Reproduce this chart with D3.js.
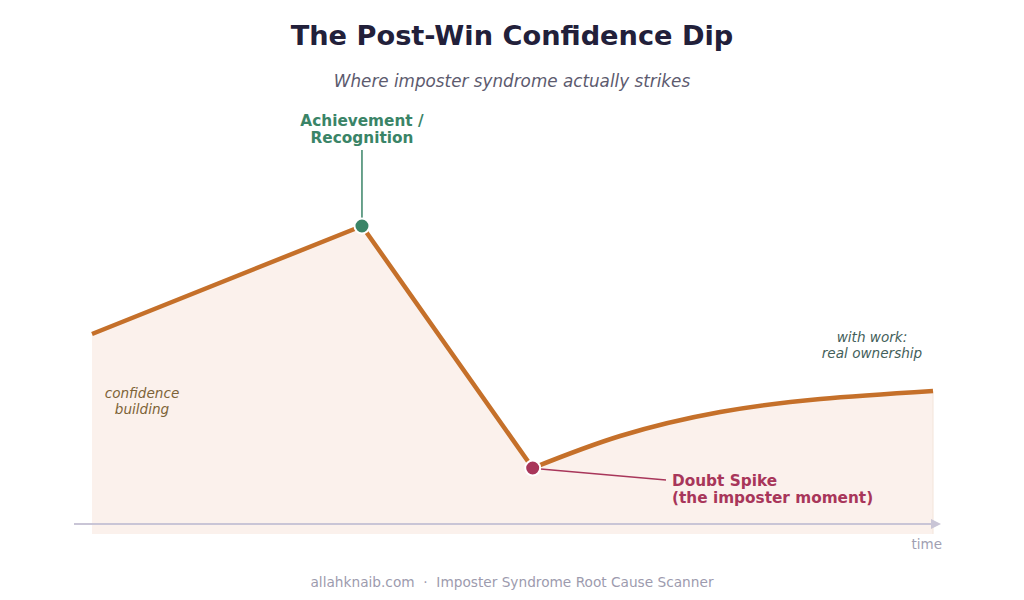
<!DOCTYPE html>
<html>
<head>
<meta charset="utf-8">
<script src="https://cdn.jsdelivr.net/npm/d3@7"></script>
<style>
  html, body { margin: 0; padding: 0; background: #fff; }
  svg { display: block; font-family: "DejaVu Sans", sans-serif; }
</style>
</head>
<body>
<div id="graph"></div>
<script>
// confidence over time (0..100 on both axes)
var riseTime = [0, 32.1, 52.4];
var riseConf = [50, 77, 16.5];
var recoveryTime = [52.4, 62.8, 74.7, 86.6, 100];
var recoveryConf = [16.5, 24.5, 30.5, 33.75, 35.75];
var axisLevel = 2.5;

var title = "The Post-Win Confidence Dip";
var subtitle = "Where imposter syndrome actually strikes";
var footer = "allahknaib.com  \u00b7  Imposter Syndrome Root Cause Scanner";

var W = 1024, H = 600;

var x = d3.scaleLinear().domain([0, 100]).range([92, 933]);
var y = d3.scaleLinear().domain([0, 100]).range([534, 134]);

var rise = riseTime.map(function(t, i) { return {t: t, v: riseConf[i]}; });
var recovery = recoveryTime.map(function(t, i) { return {t: t, v: recoveryConf[i]}; });

var svg = d3.select("#graph").append("svg")
    .attr("width", W)
    .attr("height", H);

var lineLinear = d3.line().x(function(d){ return x(d.t); }).y(function(d){ return y(d.v); });
var lineCurve = d3.line().x(function(d){ return x(d.t); }).y(function(d){ return y(d.v); })
    .curve(d3.curveNatural);

// shaded area under the curve, one path so there is no seam at the dip
var areaD = lineLinear(rise) + lineCurve(recovery).replace(/^M/, "L")
    + "L" + x(100) + "," + y(0) + "L" + x(0) + "," + y(0) + "Z";
svg.append("path").attr("d", areaD)
    .attr("fill", "#fbf1ec");
svg.append("line")
    .attr("x1", x(100)).attr("x2", x(100))
    .attr("y1", y(recoveryConf[recoveryConf.length - 1])).attr("y2", y(0))
    .attr("stroke", "#f3e4da").attr("stroke-width", 1);

// time axis with arrow
svg.append("defs").append("marker")
    .attr("id", "arrow")
    .attr("viewBox", "0 0 10 10")
    .attr("refX", 5).attr("refY", 5)
    .attr("markerWidth", 5).attr("markerHeight", 5)
    .attr("orient", "auto")
  .append("path")
    .attr("d", "M0,0 L10,5 L0,10 z")
    .attr("fill", "#c9c5d6");

svg.append("line")
    .attr("x1", 74).attr("x2", 936)
    .attr("y1", y(axisLevel)).attr("y2", y(axisLevel))
    .attr("stroke", "#c9c5d6").attr("stroke-width", 2)
    .attr("marker-end", "url(#arrow)");

svg.append("text")
    .attr("x", 942).attr("y", 549)
    .attr("text-anchor", "end")
    .attr("font-size", 13.5)
    .attr("fill", "#a19fb2")
    .text("time");

// the confidence line
svg.append("path").datum(rise).attr("d", lineLinear)
    .attr("fill", "none").attr("stroke", "#c5702a").attr("stroke-width", 4.5)
    .attr("stroke-linejoin", "round");
svg.append("path").datum(recovery).attr("d", lineCurve)
    .attr("fill", "none").attr("stroke", "#c5702a").attr("stroke-width", 4.5);

// peak annotation
var peak = rise[1], dip = rise[2];
svg.append("line")
    .attr("x1", x(peak.t)).attr("x2", x(peak.t))
    .attr("y1", 150).attr("y2", y(peak.v) - 8)
    .attr("stroke", "#3a8467").attr("stroke-width", 1.5);
svg.append("circle")
    .attr("cx", x(peak.t)).attr("cy", y(peak.v)).attr("r", 7.5)
    .attr("fill", "#3a8467").attr("stroke", "#fff").attr("stroke-width", 2);
var peakLbl = svg.append("text")
    .attr("text-anchor", "middle")
    .attr("font-size", 15.3).attr("font-weight", "bold")
    .attr("fill", "#3a8467");
peakLbl.append("tspan").attr("x", x(peak.t)).attr("y", 126).text("Achievement /");
peakLbl.append("tspan").attr("x", x(peak.t)).attr("y", 143).text("Recognition");

// dip annotation
svg.append("line")
    .attr("x1", x(dip.t) + 8).attr("y1", y(dip.v) + 1)
    .attr("x2", 666).attr("y2", 480)
    .attr("stroke", "#a8365a").attr("stroke-width", 1.3);
svg.append("circle")
    .attr("cx", x(dip.t)).attr("cy", y(dip.v)).attr("r", 7.5)
    .attr("fill", "#a8365a").attr("stroke", "#fff").attr("stroke-width", 2);
var dipLbl = svg.append("text")
    .attr("font-size", 15.3).attr("font-weight", "bold")
    .attr("fill", "#a8365a");
dipLbl.append("tspan").attr("x", 672).attr("y", 486).text("Doubt Spike");
dipLbl.append("tspan").attr("x", 672).attr("y", 503).text("(the imposter moment)");

// phase notes
var note1 = svg.append("text")
    .attr("text-anchor", "middle")
    .attr("font-size", 13.6).attr("font-style", "italic")
    .attr("fill", "#7d6337");
note1.append("tspan").attr("x", 142).attr("y", 398).text("confidence");
note1.append("tspan").attr("x", 142).attr("y", 414).text("building");

var note2 = svg.append("text")
    .attr("text-anchor", "middle")
    .attr("font-size", 13.6).attr("font-style", "italic")
    .attr("fill", "#43605a");
note2.append("tspan").attr("x", 872).attr("y", 342).text("with work:");
note2.append("tspan").attr("x", 872).attr("y", 358).text("real ownership");

// titles
svg.append("text")
    .attr("x", W / 2).attr("y", 45)
    .attr("text-anchor", "middle")
    .attr("font-size", 27.2).attr("font-weight", "bold")
    .attr("fill", "#22203a")
    .text(title);

svg.append("text")
    .attr("x", W / 2).attr("y", 87)
    .attr("text-anchor", "middle")
    .attr("font-size", 16.8).attr("font-style", "italic")
    .attr("fill", "#5c5a6e")
    .text(subtitle);

svg.append("text")
    .attr("x", W / 2).attr("y", 587)
    .attr("text-anchor", "middle")
    .attr("font-size", 13.7)
    .attr("fill", "#9d9bae")
    .attr("xml:space", "preserve")
    .style("white-space", "pre")
    .text(footer);
</script>
</body>
</html>
